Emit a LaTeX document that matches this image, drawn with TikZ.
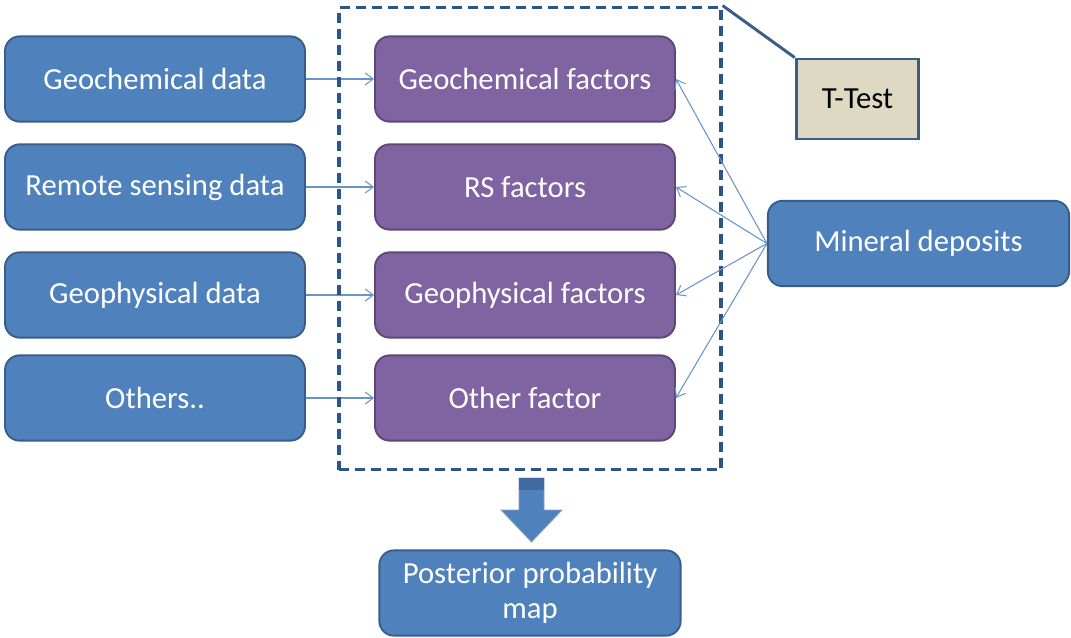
\documentclass[tikz,border=0pt]{standalone}
\usepackage{fontspec}
\setmainfont{Carlito}
\usetikzlibrary{arrows.meta}
\definecolor{boxblue}{HTML}{4F81BD}
\definecolor{edgeblue}{HTML}{385D8A}
\definecolor{boxpurple}{HTML}{8064A2}
\definecolor{edgepurple}{HTML}{5C4776}
\definecolor{dashblue}{HTML}{2F5486}
\definecolor{beige}{HTML}{DDD9C3}
\definecolor{capblue}{HTML}{3F6BA0}
\begin{document}
\begin{tikzpicture}[x=0.75pt,y=-0.75pt,
  base/.style={rounded corners=11pt, line width=1.4pt, minimum width=225pt,
    minimum height=64pt, font=\fontsize{23}{25}\selectfont, text=white, align=center},
  datanode/.style={base, fill=boxblue, draw=edgeblue},
  factornode/.style={base, fill=boxpurple, draw=edgepurple},
  feed/.style={-{Straight Barb[length=6pt,width=9pt]}, draw=boxblue!85, line width=0.8pt},
]
\useasboundingbox (0,0) rectangle (1071,637);

% input data
\node[datanode] (d1) at (155,79) {Geochemical data};
\node[datanode] (d2) at (155,187) {Remote sensing data};
\node[datanode] (d3) at (155,295) {Geophysical data};
\node[datanode] (d4) at (155,398) {Others..};

% evidential factors
\node[factornode] (f1) at (525,79) {Geochemical factors};
\node[factornode] (f2) at (525,187) {RS factors};
\node[factornode] (f3) at (525,295) {Geophysical factors};
\node[factornode] (f4) at (525,398) {Other factor};

% connectors
\foreach \i in {1,...,4} {
  \draw[feed] (d\i.east) -- (f\i.west);
}

% factor group frame
\node[draw=dashblue, line width=2.4pt, dash pattern=on 7.5pt off 4.5pt,
  minimum width=286.5pt, minimum height=347pt] (frame) at (530,238.5) {};

% test and deposits
\node[fill=beige, draw=edgeblue, line width=2.2pt, minimum width=92pt, minimum height=60pt,
  font=\fontsize{23}{25}\selectfont] (ttest) at (857.5,99) {T-Test};
\node[datanode, minimum width=226pt] (mineral) at (918.5,243.5) {Mineral deposits};

% result
\node[datanode, minimum width=226pt, font=\fontsize{23}{26.5}\selectfont] (post) at (530,593)
  {Posterior probability\\map};

\foreach \i in {1,...,4} {
  \draw[feed] (mineral.west) -- (f\i.east);
}
\draw[draw=edgeblue, line width=2.2pt] (ttest.north west) -- (frame.north east);

% block arrow from frame to result
\fill[fill=boxblue, draw=edgeblue!60, line width=0.6pt]
  (519,478) -- (544,478) -- (544,510) -- (562,510) -- (531.5,542) -- (501,510) -- (519,510) -- cycle;
\fill[capblue] (519.4,478.4) rectangle (543.6,490);
\end{tikzpicture}
\end{document}
